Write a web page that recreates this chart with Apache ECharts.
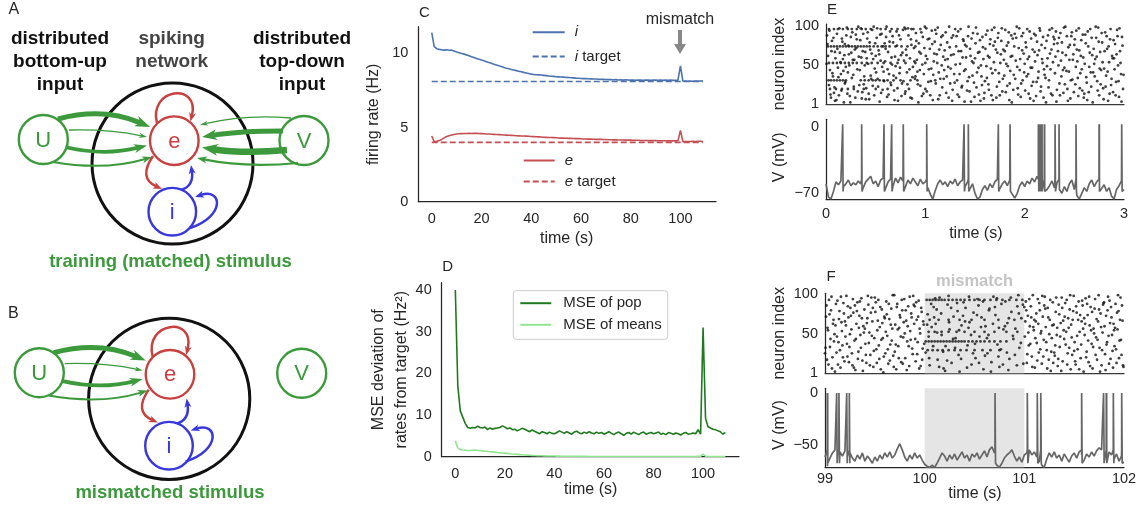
<!DOCTYPE html>
<html><head><meta charset="utf-8">
<script src="https://cdn.jsdelivr.net/npm/echarts@6/dist/echarts.min.js"></script>
<style>html,body{margin:0;padding:0;background:#fff}#c{width:1148px;height:518px}</style>
</head><body><div id="c"></div>
<script>
// ---------------- DATA ----------------
const tSec = [0,1,2,3,4,5,6,7,8,9,10,11,12,13,14,15,16,17,18,19,20,21,22,23,24,25,26,27,28,29,30,31,32,33,34,35,36,37,38,39,40,41,42,43,44,45,46,47,48,49,50,51,52,53,54,55,56,57,58,59,60,61,62,63,64,65,66,67,68,69,70,71,72,73,74,75,76,77,78,79,80,81,82,83,84,85,86,87,88,89,90,91,92,93,94,95,96,97,98,99,100,101,102,103,104,105,106,107,108,109];
const iRate = [11.4,10.45,10.32,10.27,10.24,10.22,10.24,10.21,10.22,10.16,
 10.1,10.05,10.0,9.95,9.9,9.84,9.78,9.72,9.66,9.6,
 9.55,9.5,9.44,9.38,9.33,9.27,9.22,9.16,9.11,9.05,
 9.0,8.96,8.92,8.88,8.84,8.8,8.76,8.72,8.68,8.64,
 8.6,8.58,8.56,8.55,8.54,8.52,8.5,8.48,8.46,8.45,
 8.43,8.42,8.41,8.4,8.38,8.37,8.36,8.35,8.33,8.32,
 8.31,8.3,8.3,8.29,8.28,8.27,8.27,8.26,8.25,8.25,
 8.24,8.23,8.24,8.22,8.23,8.21,8.22,8.2,8.22,8.21,
 8.2,8.21,8.19,8.21,8.2,8.19,8.21,8.2,8.19,8.2,
 8.21,8.19,8.2,8.18,8.2,8.19,8.2,8.18,8.19,8.2,
 9.15,8.12,8.13,8.12,8.13,8.12,8.14,8.13,8.14,8.15];
const eRate = [4.43,4.04,4.08,4.12,4.2,4.3,4.4,4.45,4.5,4.53,
 4.56,4.58,4.59,4.6,4.6,4.61,4.6,4.61,4.62,4.6,
 4.59,4.58,4.57,4.56,4.55,4.54,4.53,4.52,4.51,4.5,
 4.49,4.48,4.47,4.46,4.45,4.44,4.43,4.43,4.42,4.41,
 4.4,4.39,4.38,4.37,4.36,4.35,4.34,4.33,4.33,4.32,
 4.31,4.3,4.29,4.29,4.28,4.27,4.27,4.26,4.25,4.25,
 4.24,4.23,4.23,4.22,4.22,4.21,4.2,4.2,4.2,4.19,
 4.19,4.18,4.18,4.17,4.17,4.16,4.16,4.16,4.15,4.15,
 4.15,4.14,4.14,4.14,4.13,4.13,4.13,4.12,4.12,4.12,
 4.12,4.11,4.11,4.11,4.11,4.1,4.1,4.1,4.1,4.1,
 4.8,4.05,4.06,4.05,4.06,4.07,4.06,4.07,4.08,4.08];
const iTarget = 8.1;
const eTarget = 4.0;
const targetSpan = [0, 109];

const msePop = [40,17,11,9.5,8,7,6.8,7.0,6.9,7.3,
 7.0,6.9,7.1,6.5,6.9,6.6,6.8,6.9,7.0,7.4,
 7.1,6.7,6.9,6.5,6.6,6.2,6.5,6.8,6.6,6.3,
 6.0,6.4,6.1,5.8,5.5,6.0,5.8,5.5,5.9,5.6,
 5.5,5.8,6.2,5.9,5.6,6.0,5.7,5.4,5.9,6.1,
 5.7,5.5,5.9,5.6,6.0,5.7,5.5,5.9,5.6,5.8,
 5.4,5.7,6.0,5.6,5.3,5.7,5.9,5.5,5.1,5.6,
 5.8,5.4,5.9,5.6,5.3,5.7,5.9,5.4,5.6,5.8,
 5.5,5.7,5.9,5.4,5.6,5.3,5.8,5.6,5.4,5.7,
 5.5,5.2,5.6,5.8,5.4,5.5,5.7,5.5,6.5,5.4,
 31,9.2,7.2,6.9,6.6,6.5,6.2,6.0,5.4,5.8];
const mseMeans = [3.8,2.1,1.7,1.6,1.55,1.5,1.5,1.55,1.6,1.5,
 1.45,1.4,1.3,1.25,1.2,1.15,1.1,1.0,0.95,0.9,
 0.85,0.8,0.72,0.65,0.6,0.55,0.5,0.45,0.4,0.37,
 0.34,0.3,0.28,0.25,0.23,0.21,0.2,0.18,0.17,0.16,
 0.15,0.14,0.13,0.12,0.11,0.1,0.1,0.09,0.09,0.08,
 0.08,0.07,0.07,0.07,0.06,0.06,0.06,0.06,0.05,0.05,
 0.05,0.05,0.05,0.05,0.05,0.05,0.05,0.05,0.05,0.05,
 0.05,0.05,0.05,0.05,0.05,0.05,0.05,0.05,0.05,0.05,
 0.05,0.05,0.05,0.05,0.05,0.05,0.05,0.05,0.05,0.05,
 0.05,0.05,0.05,0.05,0.05,0.05,0.05,0.05,0.08,0.1,
 0.6,0.12,0.06,0.05,0.05,0.05,0.05,0.05,0.05,0.05];

// raster E: dense rows [neuron, spike times] + scattered [t, neuron]
const rowsE = [
 [96,[0.03,0.08,0.12,0.17,0.22,0.26,0.31,0.36,0.4,0.45,0.55,0.6,0.66,0.72,0.8,0.86,0.95]],
 [74,[0.02,0.05,0.08,0.11,0.14,0.17,0.2,0.23,0.26,0.29,0.32,0.35,0.38,0.41,0.44,0.48,0.52,0.56,0.6,0.64,0.7,0.76,0.82,0.9]],
 [53,[0.03,0.07,0.11,0.15,0.19,0.23,0.27,0.31,0.36,0.41,0.46,0.52,0.58,0.65,0.72,0.8,0.9,1.0]],
 [31,[0.05,0.08,0.11,0.14,0.17,0.2,0.35,0.39,0.43,0.47,0.5,0.54,0.58,0.62,0.68,0.75,0.85,0.92,1.1]],
 [20,[0.04,0.1,0.16,0.22,0.28,0.38,0.5,0.62]]
];
const scatterE = [[0.01,88],[0.02,62],[0.04,44],[0.05,9],[0.06,81],[0.07,36],[0.08,15],[0.09,67],[0.03,25],[0.09,5],
[0.11,90],[0.12,47],[0.13,12],[0.14,66],[0.15,39],[0.16,84],[0.17,58],[0.18,3],[0.19,27],[0.19,77],
[0.21,98],[0.22,41],[0.23,64],[0.24,11],[0.25,86],[0.26,34],[0.27,57],[0.28,23],[0.29,70],[0.2,48],
[0.31,83],[0.32,17],[0.33,61],[0.34,44],[0.35,97],[0.36,8],[0.37,68],[0.38,26],[0.39,50],[0.3,89],
[0.41,59],[0.42,92],[0.43,14],[0.44,79],[0.45,37],[0.46,65],[0.47,24],[0.48,99],[0.49,46],[0.4,7],
[0.51,85],[0.52,33],[0.53,69],[0.54,4],[0.55,56],[0.56,90],[0.57,19],[0.58,42],[0.59,78],[0.5,62],
[0.61,99],[0.62,45],[0.63,13],[0.64,80],[0.65,28],[0.66,60],[0.67,87],[0.68,37],[0.69,6],[0.6,71],
[0.71,93],[0.72,21],[0.73,57],[0.74,40],[0.75,83],[0.76,11],[0.77,66],[0.78,30],[0.79,98],[0.7,49],
[0.81,63],[0.82,26],[0.83,88],[0.84,45],[0.85,9],[0.86,76],[0.87,35],[0.88,96],[0.89,55],[0.8,17],
[0.91,81],[0.92,42],[0.93,3],[0.94,67],[0.95,24],[0.96,92],[0.97,51],[0.98,14],[0.99,72],[0.9,36],
[1.01,97],[1.02,58],[1.03,29],[1.04,84],[1.05,12],[1.06,46],[1.07,77],[1.08,38],[1.09,65],[1.0,20],
[1.11,90],[1.12,53],[1.13,7],[1.14,70],[1.15,33],[1.16,86],[1.17,22],[1.18,61],[1.19,44],[1.1,95],
[1.21,15],[1.22,79],[1.23,48],[1.24,99],[1.25,27],[1.26,63],[1.27,5],[1.28,88],[1.29,39],[1.2,57],
[1.31,74],[1.32,31],[1.33,93],[1.34,10],[1.35,52],[1.36,68],[1.37,24],[1.38,83],[1.39,43],[1.3,96],
[1.41,60],[1.42,18],[1.43,87],[1.44,35],[1.45,71],[1.46,4],[1.47,55],[1.48,91],[1.49,28],[1.4,76],
[1.51,98],[1.52,41],[1.53,66],[1.54,13],[1.55,82],[1.56,50],[1.57,25],[1.58,73],[1.59,8],[1.5,59],
[1.61,89],[1.62,34],[1.63,62],[1.64,19],[1.65,77],[1.66,46],[1.67,95],[1.68,6],[1.69,54],[1.6,30],
[1.71,70],[1.72,23],[1.73,85],[1.74,40],[1.75,12],[1.76,64],[1.77,97],[1.78,33],[1.79,57],[1.7,80],
[1.81,16],[1.82,75],[1.83,49],[1.84,92],[1.85,27],[1.86,61],[1.87,3],[1.88,84],[1.89,38],[1.8,68],
[1.91,56],[1.92,99],[1.93,21],[1.94,72],[1.95,44],[1.96,10],[1.97,87],[1.98,31],[1.99,65],[1.9,90],
[2.01,79],[2.02,36],[2.03,58],[2.04,14],[2.05,93],[2.06,47],[2.07,24],[2.08,70],[2.09,5],[2.0,52],
[2.11,88],[2.12,29],[2.13,63],[2.14,42],[2.15,97],[2.16,17],[2.17,76],[2.18,53],[2.19,9],[2.1,67],
[2.21,34],[2.22,81],[2.23,59],[2.24,22],[2.25,95],[2.26,45],[2.27,70],[2.28,12],[2.29,86],[2.2,38],
[2.31,61],[2.32,4],[2.33,78],[2.34,50],[2.35,27],[2.36,91],[2.37,36],[2.38,66],[2.39,15],[2.3,83],
[2.41,99],[2.42,43],[2.43,20],[2.44,73],[2.45,57],[2.46,8],[2.47,87],[2.48,32],[2.49,64],[2.4,47],
[2.51,26],[2.52,94],[2.53,55],[2.54,11],[2.55,69],[2.56,40],[2.57,82],[2.58,18],[2.59,60],[2.5,76],
[2.61,89],[2.62,35],[2.63,6],[2.64,74],[2.65,48],[2.66,96],[2.67,23],[2.68,63],[2.69,41],[2.6,14],
[2.71,58],[2.72,85],[2.73,30],[2.74,98],[2.75,12],[2.76,67],[2.77,44],[2.78,79],[2.79,21],[2.7,52],
[2.81,92],[2.82,37],[2.83,71],[2.84,5],[2.85,54],[2.86,83],[2.87,25],[2.88,62],[2.89,16],[2.8,46],
[2.91,77],[2.92,29],[2.93,95],[2.94,50],[2.95,10],[2.96,68],[2.97,39],[2.98,86],[2.99,20],[2.9,59],
[0.005,52],[0.015,77],[0.025,31],[0.035,94],[0.045,13],[0.055,68],[0.065,40],[0.075,85],[0.085,22],[0.095,59],
[0.105,6],[0.115,71],[0.125,35],[0.135,97],[0.145,54],[0.155,18],[0.165,80],[0.175,43],[0.185,63],[0.195,29],
[0.205,88],[0.215,14],[0.225,75],[0.235,50],[0.245,3],[0.255,66],[0.265,92],[0.275,38],[0.285,57],[0.295,9],
[0.305,72],[0.315,45],[0.325,99],[0.335,25],[0.345,82],[0.355,60],[0.365,16],[0.375,90],[0.385,36],[0.395,67],
[0.405,21],[0.415,84],[0.425,52],[0.435,7],[0.445,70],[0.455,33],[0.465,95],[0.475,58],[0.485,12],[0.495,78],
[0.505,41],[0.515,97],[0.525,23],[0.535,64],[0.545,89],[0.555,15],[0.565,48],[0.575,74],[0.585,30],[0.595,55],
[0.605,86],[0.615,10],[0.625,67],[0.635,39],[0.645,93],[0.655,25],[0.665,51],[0.675,79],[0.685,18],[0.695,61],
[0.705,34],[0.715,75],[0.725,5],[0.735,88],[0.745,47],[0.755,63],[0.765,27],[0.775,95],[0.785,56],[0.795,14],
[0.805,70],[0.815,41],[0.825,97],[0.835,20],[0.845,59],[0.855,83],[0.865,8],[0.875,48],[0.885,72],[0.895,33],
[0.905,91],[0.915,57],[0.925,26],[0.935,78],[0.945,44],[0.955,65],[0.965,11],[0.975,86],[0.985,39],[0.995,99],
[1.005,62],[1.015,17],[1.025,83],[1.035,45],[1.045,71],[1.055,30],[1.065,94],[1.075,6],[1.085,55],[1.095,80],
[1.105,27],[1.115,64],[1.125,98],[1.135,41],[1.145,12],[1.155,76],[1.165,50],[1.175,88],[1.185,33],[1.195,69],
[1.205,92],[1.215,36],[1.225,58],[1.235,9],[1.245,73],[1.255,46],[1.265,85],[1.275,19],[1.285,64],[1.295,28],
[1.305,51],[1.315,87],[1.325,13],[1.335,68],[1.345,39],[1.355,96],[1.365,22],[1.375,60],[1.385,81],[1.395,4],
[1.405,45],[1.415,74],[1.425,30],[1.435,99],[1.445,17],[1.455,62],[1.465,84],[1.475,37],[1.485,53],[1.495,10],
[1.505,78],[1.515,22],[1.525,90],[1.535,47],[1.545,67],[1.555,5],[1.565,36],[1.575,86],[1.585,58],[1.595,15],
[1.605,71],[1.615,49],[1.625,94],[1.635,26],[1.645,60],[1.655,83],[1.665,12],[1.675,40],[1.685,75],[1.695,98],
[1.705,44],[1.715,9],[1.725,66],[1.735,91],[1.745,29],[1.755,53],[1.765,81],[1.775,17],[1.785,70],[1.795,37],
[1.805,95],[1.815,52],[1.825,24],[1.835,79],[1.845,6],[1.855,43],[1.865,88],[1.875,62],[1.885,19],[1.895,74],
[1.905,33],[1.915,85],[1.925,48],[1.935,13],[1.945,97],[1.955,58],[1.965,27],[1.975,69],[1.985,91],[1.995,41],
[2.005,18],[2.015,73],[2.025,96],[2.035,39],[2.045,61],[2.055,8],[2.065,84],[2.075,47],[2.085,29],[2.095,90],
[2.105,55],[2.115,11],[2.125,80],[2.135,34],[2.145,69],[2.155,94],[2.165,23],[2.175,58],[2.185,86],[2.195,45],
[2.205,72],[2.215,3],[2.225,49],[2.235,88],[2.245,31],[2.255,65],[2.265,14],[2.275,97],[2.285,54],[2.295,77],
[2.305,40],[2.315,93],[2.325,19],[2.335,68],[2.345,85],[2.355,12],[2.365,56],[2.375,79],[2.385,44],[2.395,98],
[2.405,26],[2.415,63],[2.425,87],[2.435,5],[2.445,42],[2.455,76],[2.465,31],[2.475,92],[2.485,57],[2.495,16],
[2.505,83],[2.515,48],[2.525,70],[2.535,34],[2.545,97],[2.555,21],[2.565,62],[2.575,45],[2.585,89],[2.595,9],
[2.605,52],[2.615,78],[2.625,28],[2.635,93],[2.645,16],[2.655,66],[2.665,41],[2.675,85],[2.685,3],[2.695,71],
[2.705,36],[2.715,99],[2.725,61],[2.735,18],[2.745,80],[2.755,46],[2.765,26],[2.775,91],[2.785,54],[2.795,7],
[2.805,68],[2.815,23],[2.825,87],[2.835,42],[2.845,74],[2.855,14],[2.865,96],[2.875,33],[2.885,59],[2.895,82],
[2.905,45],[2.915,12],[2.925,64],[2.935,87],[2.945,30],[2.955,97],[2.965,53],[2.975,4],[2.985,75],[2.995,38]];

const rowsF = [
 [93,[100.02,100.05,100.08,100.11,100.14,100.17,100.2,100.24,100.28,100.32,100.36,100.4,100.45,100.5,100.55,100.6,100.66,100.72,100.78,100.85,100.92,100.98]],
 [68,[100.05,100.14,100.24,100.35,100.47,100.6,100.74,100.9]],
 [53,[100.04,100.1,100.17,100.24,100.32,100.4,100.5,100.6,100.7,100.82,100.93]],
 [41,[100.01,100.04,100.07,100.1,100.13,100.16,100.19,100.22,100.25,100.28,100.31,100.34,100.37,100.4,100.44,100.48,100.52,100.56,100.6,100.65,100.7,100.76,100.82]],
 [30,[100.03,100.08,100.13,100.18,100.24,100.3,100.36,100.42,100.5,100.58,100.66,100.75]]
];
const scatterF = [[99.01,72],[99.02,18],[99.03,55],[99.04,93],[99.05,34],[99.06,80],[99.07,7],[99.08,63],[99.09,41],[99.0,26],
[99.11,88],[99.12,47],[99.13,12],[99.14,69],[99.15,30],[99.16,97],[99.17,54],[99.18,21],[99.19,76],[99.1,3],
[99.21,61],[99.22,38],[99.23,85],[99.24,15],[99.25,50],[99.26,73],[99.27,26],[99.28,94],[99.29,8],[99.2,66],
[99.31,44],[99.32,79],[99.33,19],[99.34,58],[99.35,91],[99.36,33],[99.37,70],[99.38,4],[99.39,52],[99.3,86],
[99.41,24],[99.42,64],[99.43,98],[99.44,39],[99.45,11],[99.46,77],[99.47,48],[99.48,83],[99.49,29],[99.4,57],
[99.51,90],[99.52,14],[99.53,67],[99.54,36],[99.55,59],[99.56,6],[99.57,81],[99.58,45],[99.59,22],[99.5,96],
[99.61,53],[99.62,75],[99.63,31],[99.64,88],[99.65,17],[99.66,62],[99.67,42],[99.68,99],[99.69,9],[99.6,70],
[99.71,37],[99.72,84],[99.73,56],[99.74,20],[99.75,74],[99.76,47],[99.77,93],[99.78,13],[99.79,65],[99.7,28],
[99.81,80],[99.82,5],[99.83,60],[99.84,35],[99.85,97],[99.86,43],[99.87,71],[99.88,25],[99.89,87],[99.8,51],
[99.91,16],[99.92,68],[99.93,40],[99.94,92],[99.95,57],[99.96,10],[99.97,78],[99.98,32],[99.99,62],[99.9,85],
[100.01,27],[100.03,75],[100.05,11],[100.07,59],[100.09,84],[100.04,47],
[100.11,63],[100.13,18],[100.15,96],[100.17,49],[100.19,7],[100.12,81],
[100.21,35],[100.23,87],[100.25,56],[100.27,14],[100.29,72],[100.24,98],
[100.31,45],[100.33,79],[100.35,3],[100.37,61],[100.39,90],[100.34,24],
[100.41,83],[100.43,36],[100.45,65],[100.47,12],[100.49,77],[100.44,58],
[100.51,20],[100.53,94],[100.55,47],[100.57,71],[100.59,6],[100.54,86],
[100.61,60],[100.63,26],[100.65,82],[100.67,15],[100.69,97],[100.64,49],
[100.71,74],[100.73,37],[100.75,9],[100.77,88],[100.79,56],[100.74,22],
[100.81,91],[100.83,64],[100.85,19],[100.87,78],[100.89,44],[100.84,5],
[100.91,57],[100.93,85],[100.95,33],[100.97,70],[100.99,13],[100.94,99],
[101.01,66],[101.02,80],[101.03,25],[101.04,52],[101.05,94],[101.06,38],[101.07,71],[101.08,9],[101.09,59],[101.0,84],
[101.11,45],[101.12,76],[101.13,17],[101.14,63],[101.15,89],[101.16,31],[101.17,54],[101.18,98],[101.19,22],[101.1,68],
[101.21,82],[101.22,40],[101.23,7],[101.24,71],[101.25,50],[101.26,93],[101.27,28],[101.28,61],[101.29,14],[101.2,86],
[101.31,36],[101.32,96],[101.33,58],[101.34,19],[101.35,75],[101.36,47],[101.37,4],[101.38,83],[101.39,67],[101.3,27],
[101.41,89],[101.42,53],[101.43,12],[101.44,70],[101.45,33],[101.46,99],[101.47,62],[101.48,24],[101.49,79],[101.4,44],
[101.51,16],[101.52,85],[101.53,48],[101.54,68],[101.55,6],[101.56,74],[101.57,37],[101.58,92],[101.59,57],[101.5,29],
[101.61,63],[101.62,21],[101.63,88],[101.64,42],[101.65,97],[101.66,10],[101.67,55],[101.68,78],[101.69,34],[101.6,70],
[101.71,94],[101.72,46],[101.73,18],[101.74,66],[101.75,81],[101.76,3],[101.77,59],[101.78,30],[101.79,87],[101.7,51],
[101.81,25],[101.82,73],[101.83,40],[101.84,97],[101.85,13],[101.86,64],[101.87,84],[101.88,49],[101.89,8],[101.8,90],
[101.91,58],[101.92,31],[101.93,77],[101.94,99],[101.95,20],[101.96,68],[101.97,43],[101.98,86],[101.99,11],[101.9,55],
[99.005,33],[99.015,86],[99.025,58],[99.035,12],[99.045,75],[99.055,44],[99.065,97],[99.075,21],[99.085,68],[99.095,50],
[99.105,61],[99.115,27],[99.125,92],[99.135,40],[99.145,79],[99.155,8],[99.165,65],[99.175,36],[99.185,89],[99.195,16],
[99.205,47],[99.215,98],[99.225,22],[99.235,71],[99.245,34],[99.255,83],[99.265,56],[99.275,11],[99.285,77],[99.295,42],
[99.305,5],[99.315,63],[99.325,90],[99.335,28],[99.345,73],[99.355,49],[99.365,95],[99.375,17],[99.385,60],[99.395,81],
[99.405,38],[99.415,14],[99.425,70],[99.435,87],[99.445,52],[99.455,24],[99.465,96],[99.475,66],[99.485,9],[99.495,45],
[99.505,78],[99.515,31],[99.525,55],[99.535,93],[99.545,19],[99.555,84],[99.565,43],[99.575,64],[99.585,2],[99.595,72],
[99.605,26],[99.615,91],[99.625,48],[99.635,13],[99.645,69],[99.655,37],[99.665,82],[99.675,57],[99.685,23],[99.695,99],
[99.705,62],[99.715,6],[99.725,88],[99.735,35],[99.745,58],[99.755,71],[99.765,15],[99.775,80],[99.785,46],[99.795,94],
[99.805,20],[99.815,67],[99.825,41],[99.835,85],[99.845,10],[99.855,54],[99.865,76],[99.875,32],[99.885,98],[99.895,63],
[99.905,44],[99.915,90],[99.925,25],[99.935,72],[99.945,7],[99.955,51],[99.965,83],[99.975,18],[99.985,66],[99.995,38],
[100.025,62],[100.045,20],[100.065,88],[100.085,35],[100.095,71],
[100.125,52],[100.145,9],[100.165,76],[100.185,28],[100.105,95],
[100.225,17],[100.245,65],[100.265,83],[100.285,44],[100.205,4],
[100.325,89],[100.345,55],[100.365,19],[100.385,73],[100.305,33],
[100.425,8],[100.445,97],[100.465,49],[100.485,26],[100.405,66],
[100.525,74],[100.545,14],[100.565,59],[100.585,91],[100.505,38],
[100.625,45],[100.645,80],[100.665,3],[100.685,63],[100.605,23],
[100.725,95],[100.745,58],[100.765,31],[100.785,12],[100.705,84],
[100.825,27],[100.845,70],[100.865,96],[100.885,48],[100.805,60],
[100.925,11],[100.945,76],[100.965,39],[100.985,87],[100.905,24],
[101.005,47],[101.015,91],[101.025,14],[101.035,73],[101.045,36],[101.055,60],[101.065,85],[101.075,22],[101.085,99],[101.095,55],
[101.105,8],[101.115,66],[101.125,39],[101.135,94],[101.145,27],[101.155,80],[101.165,51],[101.175,13],[101.185,72],[101.195,43],
[101.205,97],[101.215,59],[101.225,30],[101.235,83],[101.245,18],[101.255,68],[101.265,4],[101.275,45],[101.285,90],[101.295,62],
[101.305,23],[101.315,78],[101.325,49],[101.335,10],[101.345,87],[101.355,34],[101.365,64],[101.375,96],[101.385,16],[101.395,55],
[101.405,72],[101.415,37],[101.425,93],[101.435,26],[101.445,58],[101.455,81],[101.465,6],[101.475,46],[101.485,68],[101.495,98],
[101.505,40],[101.515,12],[101.525,77],[101.535,31],[101.545,91],[101.555,53],[101.565,20],[101.575,66],[101.585,86],[101.595,3],
[101.605,49],[101.615,95],[101.625,28],[101.635,74],[101.645,15],[101.655,61],[101.665,84],[101.675,38],[101.685,7],[101.695,57],
[101.705,82],[101.715,24],[101.725,69],[101.735,43],[101.745,99],[101.755,33],[101.765,76],[101.775,11],[101.785,52],[101.795,89],
[101.805,60],[101.815,5],[101.825,37],[101.835,80],[101.845,48],[101.855,92],[101.865,19],[101.875,71],[101.885,29],[101.895,63],
[101.905,35],[101.915,88],[101.925,14],[101.935,56],[101.945,79],[101.955,42],[101.965,96],[101.975,24],[101.985,67],[101.995,9]];

// membrane potential traces [t (s), V (mV)] and spike times
const traceE = [[0,-60],[0.025,-74],[0.05,-76],[0.075,-68],[0.1,-58],[0.125,-61],[0.15,-57],[0.175,-63],[0.2,-60],[0.225,-56],
[0.25,-62],[0.275,-59],[0.3,-61],[0.325,-57],[0.35,-60],[0.375,-64],[0.4,-58],[0.425,-55],[0.45,-52],[0.475,-60],
[0.5,-57],[0.525,-63],[0.55,-56],[0.575,-54],[0.6,-66],[0.625,-58],[0.65,-55],[0.675,-62],[0.7,-54],[0.725,-59],
[0.75,-53],[0.775,-57],[0.8,-63],[0.825,-56],[0.85,-60],[0.875,-54],[0.9,-58],[0.925,-62],[0.95,-55],[0.975,-60],
[1,-58],[1.025,-64],[1.05,-71],[1.075,-76],[1.1,-67],[1.125,-60],[1.15,-56],[1.175,-61],[1.2,-58],[1.225,-63],
[1.25,-57],[1.275,-60],[1.3,-55],[1.325,-62],[1.35,-58],[1.375,-56],[1.4,-63],[1.425,-58],[1.45,-65],[1.475,-60],
[1.5,-70],[1.525,-76],[1.55,-74],[1.575,-66],[1.6,-62],[1.625,-67],[1.65,-60],[1.675,-64],[1.7,-58],[1.725,-55],
[1.75,-65],[1.775,-60],[1.8,-57],[1.825,-62],[1.85,-56],[1.875,-68],[1.9,-75],[1.925,-70],[1.95,-62],[1.975,-58],
[2,-63],[2.025,-57],[2.05,-60],[2.075,-54],[2.1,-58],[2.125,-52],[2.15,-55],[2.175,-58],[2.2,-60],[2.225,-66],
[2.25,-62],[2.275,-57],[2.3,-64],[2.325,-59],[2.35,-66],[2.375,-70],[2.4,-63],[2.425,-68],[2.45,-60],[2.475,-56],
[2.5,-66],[2.525,-72],[2.55,-76],[2.575,-70],[2.6,-64],[2.625,-68],[2.65,-60],[2.675,-56],[2.7,-63],[2.725,-58],
[2.75,-55],[2.775,-65],[2.8,-61],[2.825,-68],[2.85,-64],[2.875,-73],[2.9,-76],[2.925,-66],[2.95,-62],[2.975,-57],[3,-66]];
const spikesE = [0.168,0.359,0.584,0.661,0.778,1.014,1.39,1.433,1.735,1.853,2.138,2.155,2.172,2.198,2.306,2.346,2.517,2.749,2.977];
const traceF = [[99,-62],[99.025,-71],[99.05,-63],[99.075,-58],[99.1,-55],[99.125,-60],[99.15,-57],[99.175,-61],[99.2,-56],[99.225,-62],
[99.25,-58],[99.275,-63],[99.3,-66],[99.325,-60],[99.35,-64],[99.375,-58],[99.4,-66],[99.425,-61],[99.45,-64],[99.475,-68],
[99.5,-62],[99.525,-66],[99.55,-60],[99.575,-64],[99.6,-58],[99.625,-62],[99.65,-57],[99.675,-63],[99.7,-60],[99.725,-54],
[99.75,-49],[99.775,-55],[99.8,-62],[99.825,-66],[99.85,-60],[99.875,-64],[99.9,-58],[99.925,-63],[99.95,-60],[99.975,-65],
[100,-69],[100.025,-71],[100.05,-72],[100.075,-70],[100.1,-72],[100.125,-68],[100.15,-63],[100.175,-58],[100.2,-61],[100.225,-66],
[100.25,-60],[100.275,-64],[100.3,-59],[100.325,-65],[100.35,-61],[100.375,-57],[100.4,-63],[100.425,-60],[100.45,-66],[100.475,-59],
[100.5,-62],[100.525,-58],[100.55,-64],[100.575,-60],[100.6,-56],[100.625,-62],[100.65,-55],[100.675,-52],[100.7,-58],[100.725,-70],
[100.75,-72],[100.775,-68],[100.8,-63],[100.825,-60],[100.85,-58],[100.875,-55],[100.9,-61],[100.925,-66],[100.95,-62],[100.975,-67],
[101,-60],[101.025,-58],[101.05,-55],[101.075,-60],[101.1,-57],[101.125,-62],[101.15,-66],[101.175,-70],[101.2,-72],[101.225,-64],
[101.25,-58],[101.275,-62],[101.3,-57],[101.325,-63],[101.35,-60],[101.375,-66],[101.4,-59],[101.425,-63],[101.45,-67],[101.475,-61],
[101.5,-58],[101.525,-63],[101.55,-57],[101.575,-60],[101.6,-65],[101.625,-59],[101.65,-62],[101.675,-57],[101.7,-61],[101.725,-56],
[101.75,-53],[101.775,-55],[101.8,-58],[101.825,-62],[101.85,-57],[101.875,-60],[101.9,-64],[101.925,-59],[101.95,-66],[101.975,-61],[102,-67]];
const spikesF = [99.023,99.117,99.14,99.218,99.244,100.706,101.03,101.13,101.165,101.575,101.795,101.822,101.893,101.977];
const mismatchWindow = [100, 101];

// ---------------- STYLE ----------------
const FONT = "'Liberation Sans', Arial, Helvetica, sans-serif";
const TXT = '#262626';
const AX = '#262626';
const BLUE = '#4c72b0', RED = '#c44e52';
const DKGREEN = '#1f7a1f', LTGREEN = '#90e690';
const GREEN = '#3c9a3c', NRED = '#c84040', NBLUE = '#3838dc';
const VGRAY = '#666666';

const pair = (t, v) => t.map((x, k) => [x, v[k]]);
const rasterPts = (rows, sc) => rows.flatMap(r => r[1].map(t => [t, r[0]])).concat(sc);
function withSpikes(trace, spikes, peak, w) {
  const pts = trace.slice();
  spikes.forEach(s => { pts.push([s - 0.0005, -55], [s, peak], [s + w, peak], [s + w + 0.001, -68]); });
  return pts.sort((a, b) => a[0] - b[0]);
}
const minus = v => String(v).replace('-', '\u2212');

function axisBase(extra) {
  return Object.assign({
    type: 'value', splitLine: {show: false}, axisTick: {show: false},
    axisLine: {show: true, onZero: false, lineStyle: {color: AX, width: 1.25}},
    axisLabel: {color: TXT, fontSize: 14.5, fontFamily: FONT},
  }, extra);
}

// ---------------- DIAGRAM HELPERS ----------------
function arrowEls(kind, p, w, color, hl, hw, off) {
  const P = p.map(q => [q[0] + off[0], q[1] + off[1]]);
  const end = P[P.length - 1], cp = P[P.length - 2];
  let dx = end[0] - cp[0], dy = end[1] - cp[1];
  const L = Math.hypot(dx, dy); dx /= L; dy /= L;
  const nx = -dy, ny = dx;
  const sx = end[0] - dx * hl * 0.7, sy = end[1] - dy * hl * 0.7;
  const shape = kind === 'q'
    ? {x1: P[0][0], y1: P[0][1], cpx1: P[1][0], cpy1: P[1][1], x2: sx, y2: sy}
    : {x1: P[0][0], y1: P[0][1], cpx1: P[1][0], cpy1: P[1][1], cpx2: P[2][0], cpy2: P[2][1], x2: sx, y2: sy};
  const bx = end[0] - dx * hl, by = end[1] - dy * hl;
  return [
    {type: 'bezierCurve', shape, style: {stroke: color, lineWidth: w, fill: 'none'}, z: 5},
    {type: 'polygon', shape: {points: [end, [bx + nx * hw / 2, by + ny * hw / 2], [end[0] - dx * hl * 0.72, end[1] - dy * hl * 0.72], [bx - nx * hw / 2, by - ny * hw / 2]]},
      style: {fill: color}, z: 6}
  ];
}
const netArrows = [
 ['q', [[58,119],[103,107],[150,127]], 5, GREEN, 15, 11, 'U'],
 ['q', [[69,130],[110,129],[147,137]], 1.3, GREEN, 8, 5, 'U'],
 ['q', [[67,147.5],[105,156],[147,145.5]], 3.8, GREEN, 13, 9, 'U'],
 ['q', [[53,162],[105,171],[152,157]], 2, GREEN, 10, 7, 'U'],
 ['q', [[291,118],[245,114],[200,125]], 1.3, GREEN, 8, 5, 'V'],
 ['q', [[283,131],[240,131],[202,137]], 4.8, GREEN, 15, 11, 'V'],
 ['q', [[287,150],[245,154],[202,147.5]], 6.5, GREEN, 16, 12, 'V'],
 ['q', [[298,163],[245,168],[197,158]], 2.2, GREEN, 10, 7, 'V'],
 ['c', [[157,123],[148,88],[200,82],[190.5,121.5]], 2.5, NRED, 9, 7, 'n'],
 ['q', [[153,156],[138,178],[162,189]], 2.5, NRED, 9, 7, 'n'],
 ['q', [[181,190],[194,186],[191,165]], 2.5, NBLUE, 9, 7, 'n'],
 ['c', [[190,228],[226,216],[222,188],[195,197]], 2.5, NBLUE, 9, 7, 'n']
];
function nodeEls(cx, cy, r, color, label) {
  return [
    {type: 'circle', shape: {cx, cy, r}, style: {fill: '#fff', stroke: color, lineWidth: 2.4}, z: 4},
    {type: 'text', x: cx, y: cy + 1, style: {text: label, fill: color, fontSize: 22, fontFamily: FONT, align: 'center', verticalAlign: 'middle'}, z: 7}
  ];
}
function network(n, off, withV) {
  let els = [];
  els.push({type: 'circle', shape: {cx: n.big[0], cy: n.big[1], r: n.big[2]}, style: {fill: 'none', stroke: '#111', lineWidth: 3}, z: 3});
  netArrows.forEach(a => { if (withV || a[6] !== 'V') els = els.concat(arrowEls(a[0], a[1], a[2], a[3], a[4], a[5], off)); });
  els = els.concat(nodeEls(n.U[0], n.U[1], 24.5, GREEN, 'U'));
  els = els.concat(nodeEls(n.V[0], n.V[1], 24.5, GREEN, 'V'));
  els = els.concat(nodeEls(n.e[0], n.e[1], 24.3, NRED, 'e'));
  els = els.concat(nodeEls(n.i[0], n.i[1], 23.8, NBLUE, 'i'));
  return els;
}
function txt(x, y, text, o) {
  o = o || {};
  return {type: 'text', x, y, rotation: o.rot || 0, z: 10,
    style: {text, fill: o.color || TXT, fontSize: o.size || 16, fontFamily: FONT, fontWeight: o.weight || 'normal',
      align: o.align || 'center', verticalAlign: 'middle', lineHeight: o.lh || undefined}};
}

// ---------------- CHART ----------------
const chart = echarts.init(document.getElementById('c'), null, {renderer: 'canvas'});
const grids = [
  {left: 418.3, top: 26.7, width: 297.7, height: 175},
  {left: 441.7, top: 282.7, width: 297.3, height: 174},
  {left: 826, top: 24, width: 298, height: 80},
  {left: 826, top: 119.3, width: 298, height: 79.7},
  {left: 825, top: 293.3, width: 299, height: 80},
  {left: 825, top: 388.3, width: 299, height: 79}
].map(g => Object.assign({outerBoundsMode: 'none', containLabel: false}, g));

const legendText = {color: TXT, fontSize: 15, fontFamily: FONT, padding: [0, 0, 0, 5],
  rich: {it: {fontStyle: 'italic', color: TXT, fontSize: 15, fontFamily: FONT}, n: {color: TXT, fontSize: 15, fontFamily: FONT}}};
const itFmt = name => name.replace(/^([ie])(.*)$/, '{it|$1}{n|$2}');

const diagramA = {U: [43.3, 139.5], V: [304, 140.5], e: [174.3, 140.7], i: [172.3, 211.7], big: [172.5, 163.5, 80.5]};
const diagramB = {U: [39.3, 372.7], V: [301.7, 373.3], e: [170, 374.3], i: [169, 445.7], big: [169.2, 398.8, 80.6]};

let graphics = [];
graphics = graphics.concat(network(diagramA, [0, 0], true));
graphics = graphics.concat(network(diagramB, [-4.3, 233.6], false));
graphics.push(
  txt(13.8, 9.5, 'A', {size: 16}), txt(13.3, 314, 'B', {size: 16}),
  txt(424.3, 12.5, 'C', {size: 15}), txt(447.7, 266.7, 'D', {size: 15}),
  txt(832, 10, 'E', {size: 15}), txt(831, 277, 'F', {size: 15}),
  txt(60, 61.7, 'distributed\nbottom-up\ninput', {size: 19, weight: 'bold', color: '#111', lh: 23.4}),
  txt(171.7, 50, 'spiking\nnetwork', {size: 19, weight: 'bold', color: '#444', lh: 23.4}),
  txt(302, 61.7, 'distributed\ntop-down\ninput', {size: 19, weight: 'bold', color: '#111', lh: 23.4}),
  txt(170.5, 262, 'training (matched) stimulus', {size: 18.5, weight: 'bold', color: GREEN}),
  txt(170, 493.3, 'mismatched stimulus', {size: 18.5, weight: 'bold', color: GREEN}),
  txt(566.7, 238.3, 'time (s)'), txt(373.3, 114.3, 'firing rate (Hz)', {rot: Math.PI / 2}),
  txt(590.7, 490, 'time (s)'), txt(390, 369.7, 'MSE deviation of\nrates from target (Hz\u00b2)', {rot: Math.PI / 2, lh: 23.6}),
  txt(975.8, 233.3, 'time (s)'), txt(780, 64, 'neuron index', {rot: Math.PI / 2}), txt(780, 157.3, 'V (mV)', {rot: Math.PI / 2}),
  txt(975, 493.3, 'time (s)'), txt(780, 333.3, 'neuron index', {rot: Math.PI / 2}), txt(780, 425, 'V (mV)', {rot: Math.PI / 2}),
  txt(680, 20, 'mismatch', {size: 16}),
  {type: 'line', shape: {x1: 680, y1: 30, x2: 680, y2: 45}, style: {stroke: '#888', lineWidth: 4}, z: 10},
  {type: 'polygon', shape: {points: [[674, 44], [686, 44], [680, 54]]}, style: {fill: '#888'}, z: 10}
);

const legendCommon = {orient: 'vertical', itemHeight: 14, padding: 0, selectedMode: false, itemStyle: {opacity: 0, borderWidth: 0}};
const option = {
  animation: false,
  backgroundColor: '#fff',
  textStyle: {fontFamily: FONT},
  grid: grids,
  legend: [
    Object.assign({data: ['i', 'i target'], left: 531.7, top: 24.7, itemWidth: 32, itemGap: 9.3, textStyle: legendText, formatter: itFmt}, legendCommon),
    Object.assign({data: ['e', 'e target'], left: 522.7, top: 153, itemWidth: 31, itemGap: 6, textStyle: legendText, formatter: itFmt}, legendCommon),
    Object.assign({}, legendCommon, {data: ['MSE of pop', 'MSE of means'], left: 513.3, top: 290.7, itemWidth: 31, itemGap: 6.6,
      padding: [5, 6, 7, 6], backgroundColor: '#fff', borderColor: '#cccccc', borderWidth: 1, borderRadius: 3,
      textStyle: {color: TXT, fontSize: 15, fontFamily: FONT, padding: [0, 0, 0, 7]}})
  ],
  xAxis: [
    axisBase({gridIndex: 0, min: -5.4, max: 114.3, axisLabel: {color: TXT, fontSize: 14.5, fontFamily: FONT, margin: 9.5, customValues: [0, 20, 40, 60, 80, 100]}}),
    axisBase({gridIndex: 1, min: -5.5, max: 114.5, axisLabel: {color: TXT, fontSize: 14.5, fontFamily: FONT, margin: 9.5, customValues: [0, 20, 40, 60, 80, 100]}}),
    axisBase({gridIndex: 2, min: 0, max: 3, axisLabel: {show: false}, axisLine: {show: true, onZero: false, lineStyle: {color: '#3a3a3a', width: 1.25}}}),
    axisBase({gridIndex: 3, min: 0, max: 3, interval: 1, axisLabel: {color: TXT, fontSize: 14.5, fontFamily: FONT, margin: 7}}),
    axisBase({gridIndex: 4, min: 99, max: 102, axisLabel: {show: false}, axisLine: {show: true, onZero: false, lineStyle: {color: '#3a3a3a', width: 1.25}}}),
    axisBase({gridIndex: 5, min: 99, max: 102, interval: 1, axisLabel: {color: TXT, fontSize: 14.5, fontFamily: FONT, margin: 4}})
  ],
  yAxis: [
    axisBase({gridIndex: 0, min: 0, max: 11.8, axisLabel: {color: TXT, fontSize: 14.5, fontFamily: FONT, margin: 10, customValues: [0, 5, 10]}}),
    axisBase({gridIndex: 1, min: 0, max: 41.75, axisLabel: {color: TXT, fontSize: 14.5, fontFamily: FONT, margin: 10, customValues: [0, 10, 20, 30, 40]}}),
    axisBase({gridIndex: 2, min: 1, max: 102.5, axisLabel: {color: TXT, fontSize: 14.5, fontFamily: FONT, margin: 7, customValues: [1, 50, 100]}}),
    axisBase({gridIndex: 3, min: -76, max: 8, axisLabel: {color: TXT, fontSize: 14.5, fontFamily: FONT, margin: 7, customValues: [-70, 0], formatter: minus}}),
    axisBase({gridIndex: 4, min: 1, max: 101.3, axisLabel: {color: TXT, fontSize: 14.5, fontFamily: FONT, margin: 7, customValues: [1, 50, 100]}}),
    axisBase({gridIndex: 5, min: -72, max: 5, axisLabel: {color: TXT, fontSize: 14.5, fontFamily: FONT, margin: 7, customValues: [-50, 0], formatter: minus}})
  ],
  series: [
    {name: 'i', type: 'line', xAxisIndex: 0, yAxisIndex: 0, data: pair(tSec, iRate), showSymbol: false, lineStyle: {color: BLUE, width: 1.6}, itemStyle: {color: BLUE}},
    {name: 'i target', type: 'line', xAxisIndex: 0, yAxisIndex: 0, data: targetSpan.map(t => [t, iTarget]), showSymbol: false, lineStyle: {color: BLUE, width: 1.6, type: [6, 3]}, itemStyle: {color: BLUE}},
    {name: 'e', type: 'line', xAxisIndex: 0, yAxisIndex: 0, data: pair(tSec, eRate), showSymbol: false, lineStyle: {color: RED, width: 1.6}, itemStyle: {color: RED}},
    {name: 'e target', type: 'line', xAxisIndex: 0, yAxisIndex: 0, data: targetSpan.map(t => [t, eTarget]), showSymbol: false, lineStyle: {color: RED, width: 1.6, type: [6, 3]}, itemStyle: {color: RED}},
    {name: 'MSE of pop', type: 'line', xAxisIndex: 1, yAxisIndex: 1, data: pair(tSec, msePop), showSymbol: false, lineStyle: {color: DKGREEN, width: 1.6}, itemStyle: {color: DKGREEN}},
    {name: 'MSE of means', type: 'line', xAxisIndex: 1, yAxisIndex: 1, data: pair(tSec, mseMeans), showSymbol: false, lineStyle: {color: LTGREEN, width: 1.6}, itemStyle: {color: LTGREEN}},
    {name: 'rasterE', type: 'scatter', xAxisIndex: 2, yAxisIndex: 2, data: rasterPts(rowsE, scatterE), symbolSize: 2.8, itemStyle: {color: '#111'}, silent: true},
    {name: 'VE', type: 'line', xAxisIndex: 3, yAxisIndex: 3, data: withSpikes(traceE, spikesE, 2.8, 0.003), showSymbol: false, lineStyle: {color: VGRAY, width: 1.7}, silent: true},
    {name: 'rasterF', type: 'scatter', xAxisIndex: 4, yAxisIndex: 4, data: rasterPts(rowsF, scatterF), symbolSize: 2.8, itemStyle: {color: '#111'}, silent: true,
      markArea: {silent: true, itemStyle: {color: '#e5e5e5'}, data: [[{xAxis: mismatchWindow[0]}, {xAxis: mismatchWindow[1]}]],
        label: {show: true, position: 'top', distance: 3, formatter: 'mismatch', color: '#c4c4c4', fontWeight: 'bold', fontSize: 16.5, fontFamily: FONT}}},
    {name: 'VF', type: 'line', xAxisIndex: 5, yAxisIndex: 5, data: withSpikes(traceF, spikesF, 0.5, 0.004), showSymbol: false, lineStyle: {color: VGRAY, width: 1.7}, silent: true,
      markArea: {silent: true, itemStyle: {color: '#e5e5e5'}, data: [[{xAxis: mismatchWindow[0]}, {xAxis: mismatchWindow[1]}]]}}
  ],
  graphic: graphics
};
chart.setOption(option);
</script></body></html>
